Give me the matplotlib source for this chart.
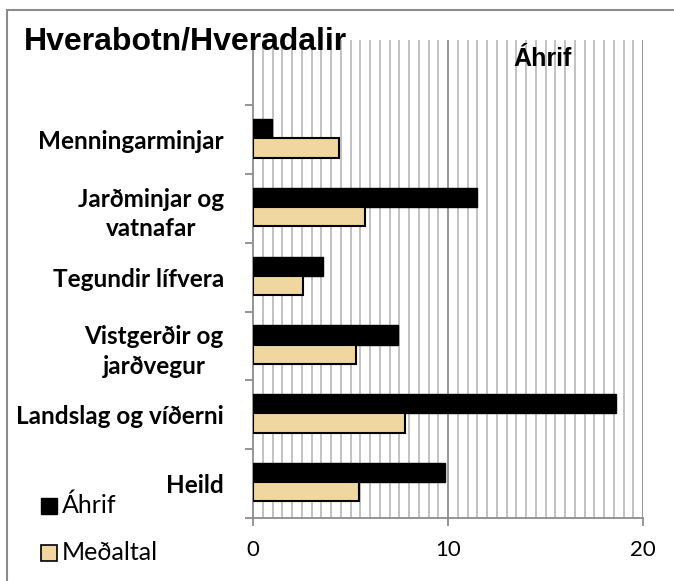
import matplotlib
matplotlib.use("Agg")
import matplotlib.pyplot as plt
from matplotlib.patches import Rectangle
import numpy as np

categories = ["Heild", "Landslag og víðerni", "Vistgerðir og\njarðvegur",
              "Tegundir lífvera", "Jarðminjar og\nvatnafar", "Menningarminjar"]
ahrif = [9.85, 18.6, 7.45, 3.6, 11.5, 0.95]
medaltal = [5.45, 7.8, 5.3, 2.55, 5.75, 4.4]
series_names = ["Áhrif", "Meðaltal"]
title = "Hverabotn/Hveradalir"
x_ticks = [0, 10, 20]

TAN = "#F0D7A0"
fig = plt.figure(figsize=(6.74, 5.81), dpi=100)
ax = fig.add_axes([253/674, 1-518/581, (643-253)/674, (518-40)/581])

y = np.arange(len(categories))
h = 0.28
ax.barh(y + h/2 + 0.02, ahrif, height=h, color="black", edgecolor="black", linewidth=1, zorder=3)
ax.barh(y - h/2 + 0.02, medaltal, height=h, color=TAN, edgecolor="black", linewidth=1.5, zorder=3)

ax.set_xlim(0, 20)
ax.set_ylim(-0.5, 6.45)

# grid
for xv in np.arange(0.5, 20, 0.5):
    if abs(xv - 10) < 1e-9:
        continue
    ax.axvline(xv, color="#BDBDBD", lw=1.3, zorder=1)
ax.axvline(10, color="#8C8C8C", lw=1.3, zorder=1)
ax.axvline(20, color="#8C8C8C", lw=1.3, zorder=1)

for s in ["top", "right"]:
    ax.spines[s].set_visible(False)
for s in ["left", "bottom"]:
    ax.spines[s].set_color("#8C8C8C")
    ax.spines[s].set_linewidth(1.3)

ax.set_xticks(x_ticks)
ax.set_xticklabels([str(t) for t in x_ticks], fontfamily="Lato", fontsize=16)
ax.tick_params(axis="x", length=6, color="#8C8C8C", width=1.3, pad=10)

ax.set_yticks(y)
ax.set_yticklabels(categories, fontfamily="Lato", fontweight="bold", fontsize=17.5,
                   linespacing=1.35, ma="center")
ax.tick_params(axis="y", length=0, pad=21)
ax.set_yticks(np.arange(-0.5, 5.6, 1.0), minor=True)
ax.tick_params(axis="y", which="minor", length=6, color="#8C8C8C", width=1.3)

# titles
fig.text(24/674, 1-50/581, title, fontfamily="Liberation Sans", fontweight="bold",
         fontsize=23, va="baseline", ha="left", zorder=5)
fig.text(543/674, 1-59/581, series_names[0], fontfamily="Liberation Sans", fontweight="bold",
         fontsize=18, va="center", ha="center")

# legend
fig.patches.append(Rectangle((41/674, 1-514/581), 16/674, 16/581, transform=fig.transFigure,
                             facecolor="black", edgecolor="black", lw=1))
fig.text(62/674, 1-505/581, series_names[0], fontfamily="Lato", fontsize=18, va="center")
fig.patches.append(Rectangle((41/674, 1-561/581), 16/674, 16/581, transform=fig.transFigure,
                             facecolor=TAN, edgecolor="black", lw=1.2))
fig.text(62/674, 1-552/581, series_names[1], fontfamily="Lato", fontsize=18, va="center")

# outer border
fig.patches.append(Rectangle((7/674, -0.05), 1.0, 1-10/581 + 0.05, transform=fig.transFigure,
                             facecolor="none", edgecolor="#8C8C8C", lw=1.5))

fig.savefig("out.png", dpi=100)
